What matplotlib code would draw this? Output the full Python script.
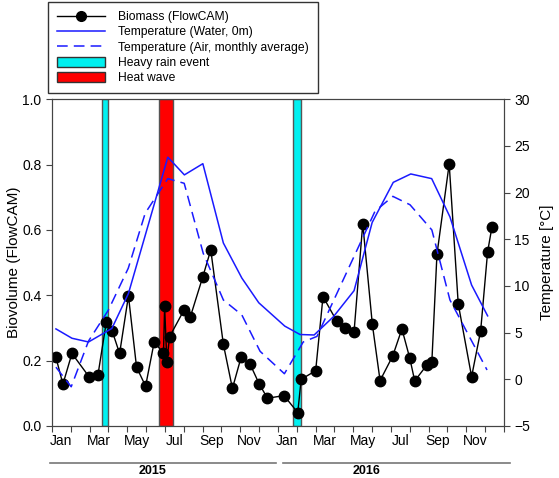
import matplotlib
matplotlib.use("Agg")
import matplotlib.pyplot as plt
from matplotlib.patches import Patch
from matplotlib.lines import Line2D

plt.rcParams['font.family'] = ['Liberation Sans', 'DejaVu Sans']

# x positions are in months since 1 Jan 2015
bio_month = [0.21, 0.58, 1.06, 1.99, 2.44, 2.88, 3.20, 3.59, 4.06, 4.49, 4.97, 5.43,
             5.92, 5.98, 6.10, 6.24, 7.02, 7.34, 8.01, 8.43, 9.10, 9.58, 10.04, 10.52,
             11.00, 11.44, 12.32, 13.05, 13.23, 14.00, 14.39, 15.12, 15.58, 16.04, 16.50,
             17.01, 17.42, 18.09, 18.58, 19.00, 19.26, 19.91, 20.17, 20.44, 21.09, 21.57,
             22.28, 22.76, 23.13, 23.36]
biovolume = [0.210, 0.128, 0.222, 0.149, 0.156, 0.317, 0.290, 0.222, 0.398, 0.180, 0.122, 0.258,
             0.222, 0.367, 0.197, 0.273, 0.356, 0.333, 0.457, 0.539, 0.250, 0.115, 0.210, 0.189,
             0.129, 0.085, 0.093, 0.041, 0.143, 0.169, 0.396, 0.321, 0.301, 0.289, 0.619,
             0.311, 0.139, 0.214, 0.297, 0.207, 0.138, 0.187, 0.197, 0.525, 0.802, 0.374,
             0.151, 0.291, 0.533, 0.609]

water_month = [0.21, 1.06, 1.94, 3.18, 4.06, 6.15, 7.03, 8.01, 9.10, 10.08, 10.98, 12.36,
               13.17, 13.92, 14.94, 16.04, 17.00, 18.12, 19.05, 20.16, 21.13, 22.28, 23.13]
water_temp = [5.4, 4.4, 4.0, 5.45, 9.2, 23.8, 21.9, 23.1, 14.6, 10.85, 8.2, 5.7,
              4.8, 4.75, 6.7, 9.5, 16.8, 21.1, 22.0, 21.5, 17.4, 10.1, 6.8]

air_month = [0.21, 1.02, 1.94, 2.99, 4.05, 4.95, 6.15, 7.02, 8.03, 9.10, 10.08, 11.05,
             12.34, 13.34, 14.07, 17.15, 18.10, 19.01, 20.17, 21.13, 23.10]
air_temp = [1.3, -0.8, 4.1, 7.4, 11.9, 17.8, 21.5, 21.0, 13.5, 8.5, 6.9, 3.0,
            0.6, 4.0, 4.6, 18.0, 19.6, 18.7, 16.0, 8.5, 1.0]

rain_events = [(2.65, 3.0), (12.82, 13.21)]
heat_waves = [(5.66, 6.42)]

month_labels = ['Jan', 'Mar', 'May', 'Jul', 'Sep', 'Nov'] * 2
years = ['2015', '2016']

fig = plt.figure(figsize=(5.59, 4.78), dpi=100)
ax = fig.add_axes([0.093, 0.1088, 0.8086, 0.6835])
ax2 = ax.twinx()

for a, b in rain_events:
    ax.axvspan(a, b, color='#00f0f0', ec='#555555', lw=1, zorder=0)
for a, b in heat_waves:
    ax.axvspan(a, b, color='red', ec='#555555', lw=1, zorder=0)

ax.plot(bio_month, biovolume, color='black', lw=1, marker='o', ms=7.5, zorder=3)
ax2.plot(water_month, water_temp, color='#1a1aff', lw=1.1)
ax2.plot(air_month, air_temp, color='#1a1aff', lw=1.1, ls=(0, (7, 4)))

ax.set_xlim(0, 24)
ax.set_ylim(0, 1.0)
ax2.set_ylim(-5, 30)
ax.set_xticks(range(25))
ax.set_xticklabels([])
ax.set_xticks([i * 2 + 0.5 for i in range(12)], minor=True)
ax.set_xticklabels(month_labels, minor=True)
ax.tick_params(axis='x', which='minor', length=0, pad=6)
ax.tick_params(axis='x', which='major', length=4, direction='out')
ax.set_yticks([0, 0.2, 0.4, 0.6, 0.8, 1.0])
ax.set_yticklabels(['0.0', '0.2', '0.4', '0.6', '0.8', '1.0'])
ax2.set_yticks(range(-5, 31, 5))
for a in (ax, ax2):
    a.tick_params(labelsize=10, length=4, color='#444444')
    for s in a.spines.values():
        s.set_color('#444444')

ax.set_ylabel('Biovolume (FlowCAM)', fontsize=11, labelpad=1)
ax2.set_ylabel('Temperature [°C]', fontsize=11, labelpad=7)

# year brackets under the axis
trans = ax.get_xaxis_transform()
ax.plot([-0.09, 11.9], [-0.113, -0.113], color='#777777', lw=1.2, transform=trans, clip_on=False)
ax.plot([12.27, 24.3], [-0.113, -0.113], color='#777777', lw=1.2, transform=trans, clip_on=False)
ax.text(5.33, -0.138, years[0], transform=trans, ha='center', va='center', fontsize=9, fontweight='bold')
ax.text(16.7, -0.138, years[1], transform=trans, ha='center', va='center', fontsize=9, fontweight='bold')

handles = [
    Line2D([], [], color='black', lw=1, marker='o', ms=7),
    Line2D([], [], color='#1a1aff', lw=1.1),
    Line2D([], [], color='#1a1aff', lw=1.1, ls=(0, (7, 4))),
    Patch(facecolor='#00f0f0', edgecolor='#333333'),
    Patch(facecolor='red', edgecolor='#333333'),
]
labels = ['Biomass (FlowCAM)', 'Temperature (Water, 0m)', 'Temperature (Air, monthly average)',
          'Heavy rain event', 'Heat wave']
leg = fig.legend(handles, labels, loc='upper left', bbox_to_anchor=(0.086, 0.996),
                 borderaxespad=0, fontsize=8.7, frameon=True, fancybox=False, edgecolor='black',
                 handlelength=4.0, handleheight=0.9, labelspacing=0.25, borderpad=0.75,
                 handletextpad=1.05)
leg.get_frame().set_linewidth(1)

fig.savefig('out.png', dpi=100)
